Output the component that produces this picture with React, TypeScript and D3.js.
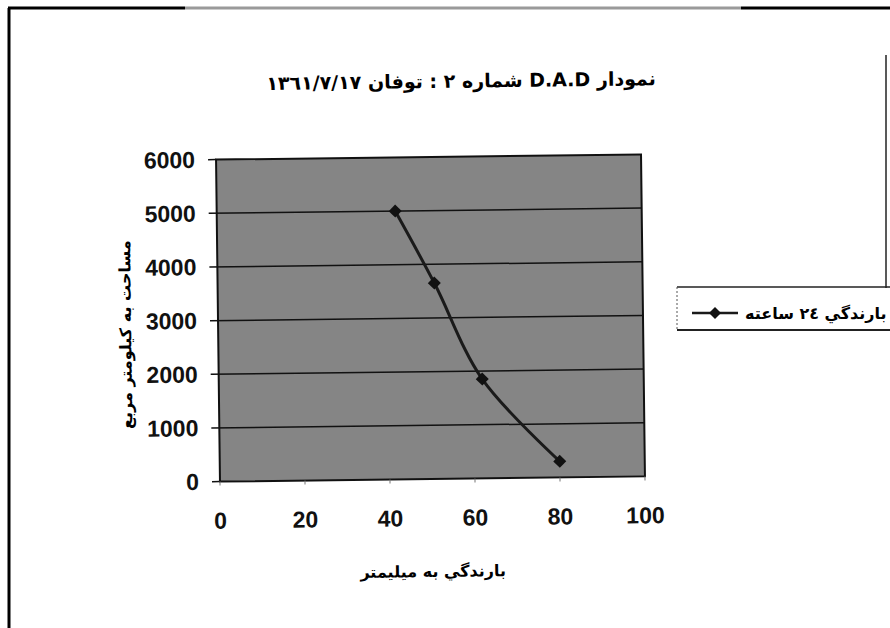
import React from "react";
import * as d3 from "d3";

const rainfall = [42, 51, 62, 80];
const area = [5000, 3650, 1850, 300];
const xTicks = [0, 20, 40, 60, 80, 100];
const yTicks = [0, 1000, 2000, 3000, 4000, 5000, 6000];
const titleText = "نمودار D.A.D شماره ٢ : توفان ١٣٦١/٧/١٧";
const xLabel = "بارندگي به ميليمتر";
const yLabel = "مساحت به کیلومتر مربع";
const seriesName = "بارندگي ٢٤ ساعته";

const W = 890;
const H = 628;
const plot = { left: 218, right: 643, top: 157, bottom: 479 };

export default function App() {
  const x = d3.scaleLinear().domain([0, 100]).range([plot.left, plot.right]);
  const y = d3.scaleLinear().domain([0, 6000]).range([plot.bottom, plot.top]);
  const pts: [number, number][] = rainfall.map((r, i) => [r, area[i]]);
  const line = d3
    .line<[number, number]>()
    .x((d) => x(d[0]))
    .y((d) => y(d[1]))
    .curve(d3.curveCatmullRom.alpha(0.5));
  const diamond = (cx: number, cy: number, r: number) =>
    `M${cx},${cy - r}L${cx + r},${cy}L${cx},${cy + r}L${cx - r},${cy}Z`;
  const numFont = "'Liberation Sans', Arial, sans-serif";
  const faFont = "'DejaVu Sans', sans-serif";

  return (
    <svg
      width={W}
      height={H}
      style={{ position: "absolute", left: 0, top: 0, display: "block", background: "#fff" }}
    >
      <rect x={0} y={0} width={W} height={H} fill="#fff" />
      {/* page frame */}
      <line x1={9} y1={8} x2={9} y2={H} stroke="#000" strokeWidth={3} />
      <line x1={8} y1={8} x2={185} y2={8} stroke="#000" strokeWidth={3} />
      <line x1={185} y1={8} x2={741} y2={8} stroke="#9a9a9a" strokeWidth={3} />
      <line x1={741} y1={8} x2={W} y2={8} stroke="#000" strokeWidth={3} />
      <line x1={886} y1={55} x2={886} y2={288} stroke="#222" strokeWidth={1.5} />

      <g transform="rotate(-0.7, 430, 318)">
        {/* title */}
        <text
          x={464}
          y={88}
          textAnchor="middle"
          direction="rtl"
          fontFamily={faFont}
          fontWeight="bold"
          fontSize={19}
          fill="#000"
        >
          {titleText}
        </text>

        {/* plot area */}
        <rect
          x={plot.left}
          y={plot.top}
          width={plot.right - plot.left}
          height={plot.bottom - plot.top}
          fill="#858585"
          stroke="#111"
          strokeWidth={2}
        />
        {yTicks.map((t) => (
          <g key={"y" + t}>
            <line
              x1={plot.left - 8}
              x2={t === 0 || t === 6000 ? plot.left : plot.right}
              y1={y(t)}
              y2={y(t)}
              stroke="#111"
              strokeWidth={1.5}
            />
            <text
              x={197}
              y={y(t) + 8}
              textAnchor="end"
              fontFamily={numFont}
              fontWeight="bold"
              fontSize={23}
              fill="#111"
            >
              {t}
            </text>
          </g>
        ))}
        {xTicks.map((t) => (
          <g key={"x" + t}>
            <line x1={x(t)} x2={x(t)} y1={plot.bottom} y2={plot.bottom + 4} stroke="#777" strokeWidth={1} />
            <text
              x={x(t)}
              y={526}
              textAnchor="middle"
              fontFamily={numFont}
              fontWeight="bold"
              fontSize={23}
              fill="#111"
            >
              {t}
            </text>
          </g>
        ))}

        {/* series */}
        <path d={line(pts) || ""} fill="none" stroke="#1a1a1a" strokeWidth={3} />
        {pts.map((p, i) => (
          <path key={"m" + i} d={diamond(x(p[0]), y(p[1]), 6.5)} fill="#111" />
        ))}

        {/* axis titles */}
        <text
          x={430}
          y={577}
          textAnchor="middle"
          direction="rtl"
          fontFamily={faFont}
          fontWeight="bold"
          fontSize={16}
          fill="#000"
        >
          {xLabel}
        </text>
        <text
          transform="translate(131, 331) rotate(-90)"
          textAnchor="middle"
          direction="rtl"
          fontFamily={faFont}
          fontWeight="bold"
          fontSize={16}
          fill="#000"
        >
          {yLabel}
        </text>
      </g>

      {/* legend */}
      <g>
        <line x1={677} y1={287} x2={W} y2={287} stroke="#222" strokeWidth={1.5} />
        <line x1={677} y1={330} x2={W} y2={330} stroke="#222" strokeWidth={2} />
        <line x1={677} y1={287} x2={677} y2={330} stroke="#555" strokeWidth={1} strokeDasharray="2,2" />
        <line x1={692} y1={313} x2={738} y2={313} stroke="#1a1a1a" strokeWidth={2.5} />
        <path d={diamond(715, 313, 6)} fill="#111" />
        <text
          x={745}
          y={319}
          textAnchor="end"
          direction="rtl"
          fontFamily={faFont}
          fontWeight="bold"
          fontSize={16}
          fill="#000"
        >
          {seriesName}
        </text>
      </g>
    </svg>
  );
}
